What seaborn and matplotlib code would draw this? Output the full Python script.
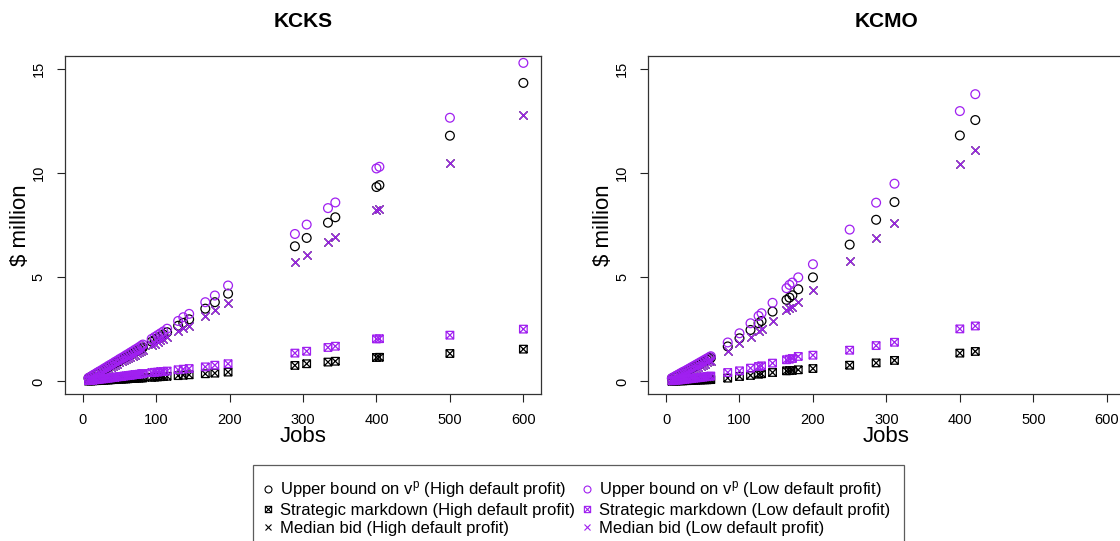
import matplotlib
matplotlib.use("Agg")
import matplotlib.pyplot as plt
from matplotlib.path import Path
from matplotlib.lines import Line2D
import seaborn as sns
import pandas as pd

# ---------------- data ----------------
ks_jobs = [8, 11, 14, 17, 20, 23, 26, 29, 32, 35, 38, 41, 44, 47, 50, 53, 56, 59, 62, 65, 68, 71, 74, 77, 80, 82,
           94, 98, 102, 106, 110, 115, 130, 137, 145, 167, 180, 198, 289, 305, 334, 344, 400, 404, 500, 600]
ks_ub_high = [0.16, 0.22, 0.28, 0.34, 0.40, 0.46, 0.51, 0.57, 0.63, 0.69, 0.75, 0.81, 0.87, 0.93, 0.99, 1.05, 1.11,
              1.17, 1.23, 1.29, 1.35, 1.41, 1.47, 1.53, 1.59, 1.63,
              1.91, 1.99, 2.08, 2.16, 2.25, 2.36, 2.67, 2.81, 2.98, 3.49, 3.80, 4.21, 6.48, 6.88, 7.61, 7.87,
              9.32, 9.41, 11.78, 14.31]
ks_ub_low = [0.17, 0.23, 0.30, 0.36, 0.43, 0.49, 0.55, 0.62, 0.68, 0.75, 0.81, 0.87, 0.94, 1.00, 1.07, 1.13, 1.19,
             1.26, 1.32, 1.39, 1.45, 1.52, 1.58, 1.65, 1.72, 1.77,
             2.04, 2.13, 2.22, 2.31, 2.40, 2.53, 2.90, 3.08, 3.24, 3.80, 4.12, 4.60, 7.07, 7.52, 8.31, 8.58,
             10.21, 10.29, 12.64, 15.27]
ks_md_high = [0.02, 0.02, 0.03, 0.04, 0.04, 0.05, 0.05, 0.06, 0.07, 0.07, 0.08, 0.09, 0.09, 0.10, 0.11, 0.11, 0.12,
              0.12, 0.13, 0.14, 0.14, 0.15, 0.16, 0.16, 0.17, 0.17,
              0.20, 0.21, 0.22, 0.23, 0.24, 0.25, 0.28, 0.30, 0.32, 0.37, 0.40, 0.45, 0.77, 0.85, 0.93, 0.97,
              1.15, 1.16, 1.34, 1.55]
ks_md_low = [0.04, 0.05, 0.06, 0.08, 0.09, 0.11, 0.12, 0.13, 0.15, 0.16, 0.17, 0.19, 0.20, 0.22, 0.23, 0.24, 0.26,
             0.27, 0.29, 0.30, 0.31, 0.33, 0.34, 0.35, 0.37, 0.38,
             0.42, 0.44, 0.45, 0.47, 0.48, 0.50, 0.56, 0.59, 0.62, 0.70, 0.78, 0.85, 1.36, 1.45, 1.63, 1.69,
             2.04, 2.05, 2.22, 2.51]
ks_median = [0.15, 0.20, 0.25, 0.31, 0.36, 0.42, 0.47, 0.53, 0.58, 0.64, 0.69, 0.75, 0.80, 0.86, 0.91, 0.96, 1.02,
             1.07, 1.13, 1.18, 1.24, 1.29, 1.35, 1.40, 1.46, 1.49,
             1.75, 1.82, 1.90, 1.97, 2.05, 2.14, 2.41, 2.54, 2.68, 3.14, 3.41, 3.78, 5.71, 6.06, 6.70, 6.93,
             8.22, 8.25, 10.45, 12.77]

mo_jobs = [8, 11, 14, 17, 20, 23, 26, 29, 32, 35, 38, 41, 44, 47, 50, 53, 56, 59, 61,
           84, 100, 115, 126, 130, 145, 164, 168, 172, 180, 200, 250, 286, 311, 400, 421]
mo_ub_high = [0.15, 0.20, 0.26, 0.31, 0.37, 0.43, 0.48, 0.54, 0.59, 0.65, 0.70, 0.76, 0.81, 0.87, 0.93, 0.98, 1.04,
              1.09, 1.13,
              1.68, 2.07, 2.47, 2.79, 2.90, 3.35, 3.91, 4.02, 4.13, 4.42, 4.99, 6.56, 7.75, 8.60, 11.79, 12.53]
mo_ub_low = [0.16, 0.22, 0.28, 0.34, 0.40, 0.46, 0.51, 0.57, 0.63, 0.69, 0.75, 0.81, 0.87, 0.93, 0.99, 1.05, 1.11,
             1.17, 1.21,
             1.87, 2.31, 2.79, 3.14, 3.27, 3.77, 4.47, 4.63, 4.74, 4.99, 5.62, 7.28, 8.57, 9.48, 12.96, 13.77]
mo_md_high = [0.01, 0.02, 0.02, 0.03, 0.03, 0.03, 0.04, 0.04, 0.05, 0.05, 0.06, 0.06, 0.07, 0.07, 0.08, 0.08, 0.08,
              0.09, 0.09,
              0.16, 0.24, 0.29, 0.35, 0.37, 0.43, 0.51, 0.52, 0.53, 0.56, 0.62, 0.78, 0.89, 1.01, 1.36, 1.44]
mo_md_low = [0.03, 0.05, 0.06, 0.07, 0.08, 0.10, 0.11, 0.12, 0.13, 0.15, 0.16, 0.17, 0.18, 0.20, 0.21, 0.22, 0.24,
             0.25, 0.26,
             0.43, 0.51, 0.64, 0.72, 0.75, 0.88, 1.04, 1.07, 1.10, 1.20, 1.26, 1.50, 1.72, 1.88, 2.52, 2.66]
mo_median = [0.13, 0.18, 0.23, 0.28, 0.32, 0.37, 0.42, 0.47, 0.52, 0.57, 0.62, 0.66, 0.71, 0.76, 0.81, 0.86, 0.91,
             0.96, 0.99,
             1.44, 1.84, 2.15, 2.44, 2.51, 2.90, 3.43, 3.51, 3.59, 3.83, 4.39, 5.79, 6.86, 7.61, 10.44, 11.09]

panel_titles = ["KCKS", "KCMO"]
x_ticks = [0, 100, 200, 300, 400, 500, 600]
y_ticks = [0, 5, 10, 15]
legend_labels = [
    r"Upper bound on v$^{\mathrm{p}}$ (High default profit)",
    "Strategic markdown (High default profit)",
    "Median bid (High default profit)",
    r"Upper bound on v$^{\mathrm{p}}$ (Low default profit)",
    "Strategic markdown (Low default profit)",
    "Median bid (Low default profit)",
]

# ---------------- style ----------------
sns.set_style("white")
plt.rcParams["font.family"] = ["Liberation Sans", "DejaVu Sans"]
plt.rcParams["mathtext.fontset"] = "custom"
plt.rcParams["mathtext.rm"] = "Liberation Sans"
plt.rcParams["mathtext.it"] = "Liberation Sans:italic"
plt.rcParams["text.color"] = "black"
plt.rcParams["axes.labelcolor"] = "black"
plt.rcParams["xtick.color"] = "black"
plt.rcParams["ytick.color"] = "black"

BLACK = "#000000"
PURPLE = "#A020F0"

boxx = Path([(-1, -1), (1, -1), (1, 1), (-1, 1), (-1, -1), (-1, -1), (1, 1), (-1, 1), (1, -1)],
            [Path.MOVETO, Path.LINETO, Path.LINETO, Path.LINETO, Path.CLOSEPOLY,
             Path.MOVETO, Path.LINETO, Path.MOVETO, Path.LINETO])

W, H = 1120, 541
fig = plt.figure(figsize=(W / 100, H / 100), dpi=100)
ax_l, ax_b, ax_w, ax_h = 65 / W, 1 - 394 / H, 476 / W, 338 / H
axes = [fig.add_axes([ax_l, ax_b, ax_w, ax_h]),
        fig.add_axes([648.4 / W, ax_b, ax_w, ax_h])]

datasets = [
    (ks_jobs, ks_ub_high, ks_ub_low, ks_md_high, ks_md_low, ks_median),
    (mo_jobs, mo_ub_high, mo_ub_low, mo_md_high, mo_md_low, mo_median),
]

S_CIRC, S_BOX, S_X, LW = 40, 30, 34, 0.9

for ax, title, (jobs, ubh, ubl, mdh, mdl, med) in zip(axes, panel_titles, datasets):
    df = pd.DataFrame({"jobs": jobs, "ubh": ubh, "ubl": ubl, "mdh": mdh, "mdl": mdl, "med": med})
    for color, ub, md in [(BLACK, "ubh", "mdh"), (PURPLE, "ubl", "mdl")]:
        sns.scatterplot(data=df, x="jobs", y=ub, ax=ax, marker="o", s=S_CIRC,
                        facecolor="none", edgecolor=color, linewidth=LW, zorder=3)
        sns.scatterplot(data=df, x="jobs", y=md, ax=ax, marker=boxx, s=S_BOX,
                        facecolor="none", edgecolor=color, linewidth=LW, zorder=3)
        sns.scatterplot(data=df, x="jobs", y="med", ax=ax, marker="x", s=S_X,
                        color=color, linewidth=LW, zorder=3)

    ax.set_xlim(-24, 624)
    ax.set_ylim(-0.6, 15.6)
    ax.set_xticks(x_ticks)
    ax.set_yticks(y_ticks)
    ax.tick_params(axis="both", direction="out", length=6, width=0.8, color="#222222",
                   labelsize=10.5, bottom=True, left=True, pad=8)
    for lab in ax.get_yticklabels():
        lab.set_rotation(90)
        lab.set_va("center")
    for sp in ax.spines.values():
        sp.set_visible(True)
        sp.set_color("#333333")
        sp.set_linewidth(0.9)
    ax.set_xlabel("Jobs", fontsize=16, va="center")
    ax.xaxis.set_label_coords(0.5, (394 - 437) / 338)
    ax.set_ylabel("$ million", fontsize=16, va="center")
    ax.yaxis.set_label_coords(-45 / 476, 0.5)
    ax.text(0.5, 1 + (56 - 21.5) / 338, title, transform=ax.transAxes, ha="center", va="center",
            fontsize=15, fontweight="bold")
    ax.grid(False)
    ax.set_facecolor("white")

handles = []
for color in [BLACK, PURPLE]:
    handles.append(Line2D([], [], ls="none", marker="o", mfc="none", mec=color, ms=5, mew=0.8))
    handles.append(Line2D([], [], ls="none", marker=boxx, mfc="none", mec=color, ms=4.5, mew=0.8))
    handles.append(Line2D([], [], ls="none", marker="x", color=color, ms=5, mew=0.8))

leg = fig.legend(handles, legend_labels, ncol=2, loc="upper left",
                 bbox_to_anchor=(253 / W, 1 - 465 / H), frameon=True, fancybox=False,
                 edgecolor="#333333", fontsize=12, borderpad=0.85, handlelength=0.15,
                 handletextpad=0.63, labelspacing=0.17, columnspacing=0.65, borderaxespad=0)
leg.get_frame().set_linewidth(0.9)

fig.savefig("out.png", dpi=100)
